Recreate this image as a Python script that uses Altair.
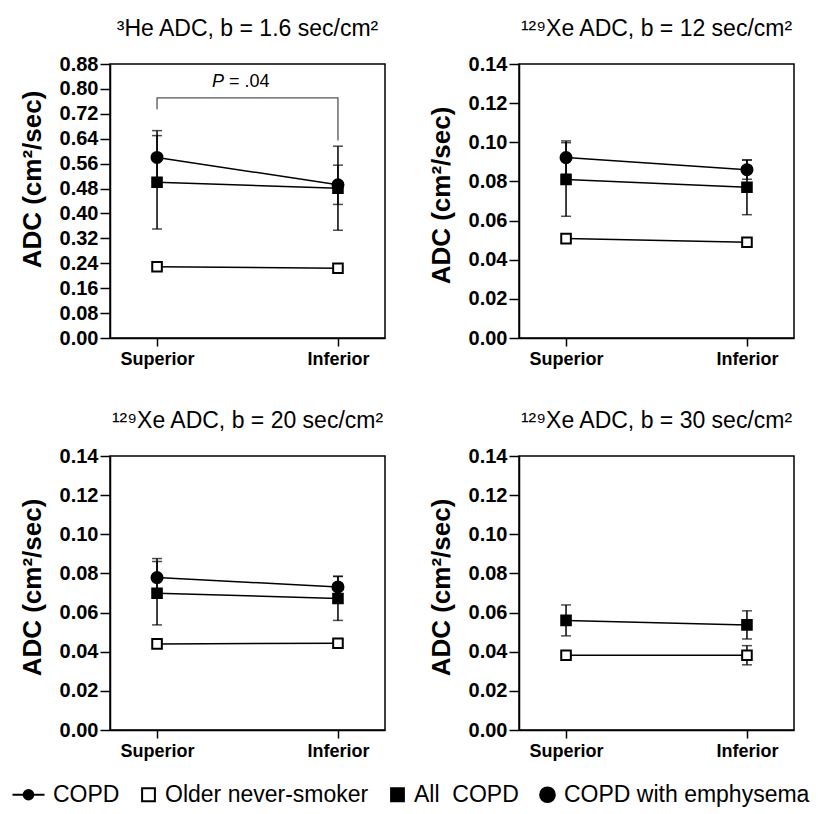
import altair as alt
import pandas as pd

FONT = "Liberation Sans"

positions = ["Superior", "Inferior"]
groups = ["COPD", "Older never-smoker", "All COPD", "COPD with emphysema"]

titles = [
    "\u00b3He ADC, b = 1.6 sec/cm\u00b2",
    "\u00b9\u00b2\u2079Xe ADC, b = 12 sec/cm\u00b2",
    "\u00b9\u00b2\u2079Xe ADC, b = 20 sec/cm\u00b2",
    "\u00b9\u00b2\u2079Xe ADC, b = 30 sec/cm\u00b2",
]

# panel 1: 3He, b = 1.6
he16_emph_mean = [0.580, 0.492]
he16_emph_err = [0.086, 0.063]
he16_all_mean = [0.500, 0.481]
he16_all_err = [0.150, 0.135]
he16_never_mean = [0.229, 0.224]
he16_never_err = [0.010, 0.008]

# panel 2: 129Xe, b = 12
xe12_emph_mean = [0.0922, 0.0860]
xe12_emph_err = [0.0085, 0.0049]
xe12_all_mean = [0.0810, 0.0770]
xe12_all_err = [0.0188, 0.0140]
xe12_never_mean = [0.0508, 0.0489]
xe12_never_err = [0.0015, 0.0020]

# panel 3: 129Xe, b = 20
xe20_emph_mean = [0.0779, 0.0731]
xe20_emph_err = [0.0097, 0.0055]
xe20_all_mean = [0.0699, 0.0672]
xe20_all_err = [0.0162, 0.0112]
xe20_never_mean = [0.0440, 0.0443]
xe20_never_err = [0.0020, 0.0010]

# panel 4: 129Xe, b = 30
xe30_all_mean = [0.0560, 0.0537]
xe30_all_err = [0.0079, 0.0072]
xe30_never_mean = [0.0382, 0.0382]
xe30_never_err = [0.0010, 0.0049]

# significance annotation (panel 1)
bracket_pos = ["Superior", "Superior", "Inferior", "Inferior"]
bracket_y = [0.735, 0.771, 0.771, 0.634]
p_label_y = 0.822

y1_ticks = [round(0.08 * i, 2) for i in range(12)]
y2_ticks = [round(0.02 * i, 2) for i in range(8)]

shape_paths = [
    "M-3,0L1,0M-0.4,0A0.6,0.6,0,1,0,-1.6,0A0.6,0.6,0,1,0,-0.4,0Z",
    "M-0.8,-0.8L0.8,-0.8L0.8,0.8L-0.8,0.8Z",
    "M-0.8,-0.8L0.8,-0.8L0.8,0.8L-0.8,0.8Z",
    "M0.92,0A0.92,0.92,0,1,1,-0.92,0A0.92,0.92,0,1,1,0.92,0Z",
]
fills = ["black", "white", "black", "black"]
strokes = ["black", "black", "black", "black"]
LABEL_EXPR = "datum.label == 'All COPD' ? 'All\u00a0 COPD' : datum.label"


def frame(series):
    rows = []
    for g, means, errs in series:
        for p, m, e in zip(positions, means, errs):
            rows.append({"position": p, "group": g, "mean": m, "lo": m - e, "hi": m + e})
    return pd.DataFrame(rows)


X_DEF = alt.X(
    "position:N",
    scale=alt.Scale(type="point", domain=positions, padding=0.26),
    axis=alt.Axis(
        title=None, labelAngle=0, labelFontSize=18, labelFontWeight="bold",
        labelFont=FONT, tickSize=8, tickWidth=1.5, domainWidth=1.5,
        domainColor="black", tickColor="black", labelColor="black", labelPadding=4,
    ),
)


def legend():
    return alt.Legend(title=None, labelExpr=LABEL_EXPR, symbolStrokeWidth=2, symbolSize=256)


def y_axis(ticks, title_y):
    return alt.Axis(
        title="ADC (cm\u00b2/sec)", values=ticks, format=".2f", grid=False, labelOverlap=False,
        labelFontSize=20, labelFontWeight="bold", labelFont=FONT, labelColor="black",
        tickSize=10, tickWidth=1.5, domainWidth=1.5, domainColor="black", tickColor="black",
        labelPadding=2, titleFontSize=26, titleFontWeight="bold", titleFont=FONT,
        titleColor="black", titlePadding=14, titleY=title_y,
    )


def panel(df, title, ymax, ticks, title_y, extra=None):
    ysc = alt.Scale(domain=[0, ymax], nice=False, zero=True)

    def Y(field):
        return alt.Y(field, scale=ysc, axis=y_axis(ticks, title_y), title="ADC (cm\u00b2/sec)")

    base = alt.Chart(df).encode(x=X_DEF)
    lines = base.mark_line(color="black", strokeWidth=1.5).encode(y=Y("mean:Q"), detail="group:N")
    bars = base.mark_rule(color="black", strokeWidth=1.5).encode(y=Y("lo:Q"), y2="hi:Q")
    cap_hi = base.mark_tick(color="black", orient="horizontal", size=10, thickness=1.5).encode(y=Y("hi:Q"))
    cap_lo = base.mark_tick(color="black", orient="horizontal", size=10, thickness=1.5).encode(y=Y("lo:Q"))
    pts = base.mark_point(filled=True, strokeWidth=2, opacity=1, size=144).encode(
        y=Y("mean:Q"),
        shape=alt.Shape("group:N", scale=alt.Scale(domain=groups, range=shape_paths), legend=legend()),
        fill=alt.Fill("group:N", scale=alt.Scale(domain=groups, range=fills), legend=legend()),
        stroke=alt.Stroke("group:N", scale=alt.Scale(domain=groups, range=strokes), legend=legend()),
    )
    layers = [lines, bars, cap_hi, cap_lo, pts]
    if extra is not None:
        ex = [e.encode(y=Y("y:Q")) for e in extra]
        layers = layers[:1] + ex + layers[1:]
    return alt.layer(*layers).properties(
        width=275, height=274,
        title=alt.TitleParams(text=title, fontSize=23, fontWeight="normal", font=FONT,
                              color="black", anchor="middle", offset=13),
    )


df1 = frame([("COPD with emphysema", he16_emph_mean, he16_emph_err),
             ("All COPD", he16_all_mean, he16_all_err),
             ("Older never-smoker", he16_never_mean, he16_never_err)])
df2 = frame([("COPD with emphysema", xe12_emph_mean, xe12_emph_err),
             ("All COPD", xe12_all_mean, xe12_all_err),
             ("Older never-smoker", xe12_never_mean, xe12_never_err)])
df3 = frame([("COPD with emphysema", xe20_emph_mean, xe20_emph_err),
             ("All COPD", xe20_all_mean, xe20_all_err),
             ("Older never-smoker", xe20_never_mean, xe20_never_err)])
df4 = frame([("All COPD", xe30_all_mean, xe30_all_err),
             ("Older never-smoker", xe30_never_mean, xe30_never_err)])

bracket_df = pd.DataFrame({"position": bracket_pos, "y": bracket_y, "k": list(range(4))})
bracket = alt.Chart(bracket_df).mark_line(color="#555555", strokeWidth=1.3).encode(
    x=X_DEF, order="k:Q")
ptext_df = pd.DataFrame({"position": ["Superior"], "y": [p_label_y]})
p_italic = alt.Chart(ptext_df).mark_text(
    text="P", fontStyle="italic", fontSize=18, font=FONT, align="left", dx=55, color="black"
).encode(x=X_DEF)
p_rest = alt.Chart(ptext_df).mark_text(
    text="= .04", fontSize=18, font=FONT, align="left", dx=72, color="black"
).encode(x=X_DEF)

c1 = panel(df1, titles[0], 0.88, y1_ticks, 115, extra=[bracket, p_italic, p_rest])
c2 = panel(df2, titles[1], 0.14, y2_ticks, 131)
c3 = panel(df3, titles[2], 0.14, y2_ticks, 131)
c4 = panel(df4, titles[3], 0.14, y2_ticks, 131)

row1 = alt.hconcat(c1, c2, spacing=41)
row2 = alt.hconcat(c3, c4, spacing=41)
chart = alt.vconcat(row1, row2, spacing=40).properties(
    padding={"left": 10, "top": 9, "right": 5, "bottom": 0}
).configure_view(
    stroke="black", strokeWidth=1.5
).configure_legend(
    orient="none", legendX=-85, legendY=719, direction="horizontal",
    labelFontSize=23, labelFont=FONT, labelColor="black",
    labelOffset=5, columnPadding=17, labelLimit=400,
)

chart.save("out.html", embed_options={"renderer": "svg", "actions": False})
